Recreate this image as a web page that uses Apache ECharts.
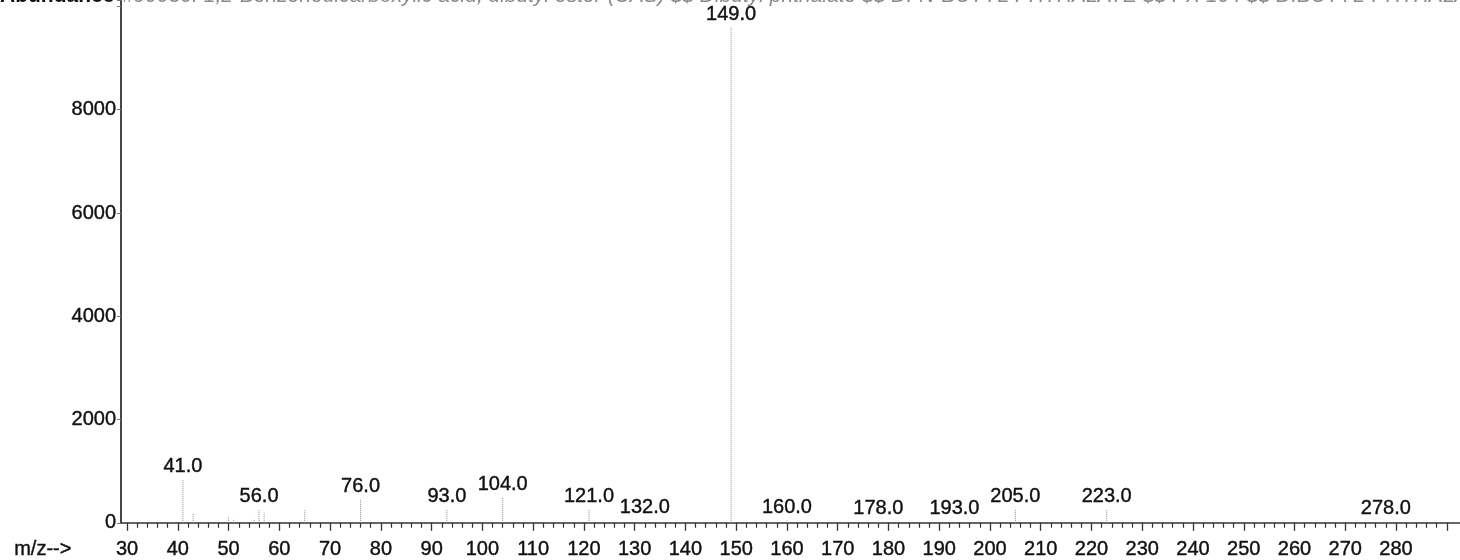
<!DOCTYPE html>
<html>
<head>
<meta charset="utf-8">
<script src="https://cdn.jsdelivr.net/npm/echarts@6/dist/echarts.min.js"></script>
<style>
  html, body { margin: 0; padding: 0; background: #fff; }
  #chart { width: 1460px; height: 560px; }
</style>
</head>
<body>
<div id="chart"></div>
<script>
// Library spectrum of dibutyl phthalate: m/z and abundance of each line
const mzValues  = [41, 43, 50, 51, 55, 56, 57, 65, 76, 93, 104, 121, 132, 149, 160, 178, 193, 205, 223, 278];
const abundance = [830, 180, 120, 60, 80, 250, 200, 250, 445, 255, 490, 255, 40, 9590, 50, 20, 20, 255, 255, 30];

// Lines that carry an m/z label
const labeledMz = [41, 56, 76, 93, 104, 121, 132, 149, 160, 178, 193, 205, 223, 278];

// Axis ticks
const xMajorTicks = [30, 40, 50, 60, 70, 80, 90, 100, 110, 120, 130, 140, 150, 160, 170, 180, 190, 200, 210, 220, 230, 240, 250, 260, 270, 280, 290];
const xTickLabels = [30, 40, 50, 60, 70, 80, 90, 100, 110, 120, 130, 140, 150, 160, 170, 180, 190, 200, 210, 220, 230, 240, 250, 260, 270, 280];
const yTickLabels = [0, 2000, 4000, 6000, 8000];

const headerTitle = 'Abundance';
const headerText = '#90030: 1,2-Benzenedicarboxylic acid, dibutyl ester (CAS) $$ Dibutyl phthalate $$ DI-N-BUTYL PHTHALATE $$ PX 104 $$ DIBUTYL-PHTHALATE';

const xMinorTicks = [];
for (let v = 30; v <= 290; v += 2) {
  if (v % 10 !== 0) xMinorTicks.push(v);
}

const FONT = '"Liberation Sans", Arial, sans-serif';
const TEXT_INK = '#111';
const chart = echarts.init(document.getElementById('chart'), null, { renderer: 'canvas' });

const axisColor = '#333';

// Shared look of the axis numbers (slightly heavier strokes)
const labelInk = {
  color: TEXT_INK,
  fontSize: 20,
  fontFamily: FONT,
  textBorderColor: TEXT_INK,
  textBorderWidth: 0.4
};

chart.setOption({
  animation: false,
  backgroundColor: '#ffffff',
  grid: { left: 121, right: 0, top: 0, bottom: 37 },
  xAxis: [
    {
      type: 'value',
      min: 28.8,
      max: 292.6,
      position: 'bottom',
      axisLine: { show: true, lineStyle: { color: axisColor, width: 1.6 } },
      axisTick: { show: true, customValues: xMajorTicks, length: 8, lineStyle: { color: axisColor, width: 1.3 } },
      axisLabel: Object.assign({ customValues: xTickLabels, margin: 17 }, labelInk),
      splitLine: { show: false }
    },
    {
      type: 'value',
      min: 28.8,
      max: 292.6,
      position: 'bottom',
      axisLine: { show: false },
      axisTick: { show: true, customValues: xMinorTicks, length: 5, lineStyle: { color: axisColor, width: 1.2 } },
      axisLabel: { show: false },
      splitLine: { show: false }
    }
  ],
  yAxis: {
    type: 'value',
    min: 0,
    max: 10125,
    interval: 2000,
    axisLine: { show: true, lineStyle: { color: axisColor, width: 1.8 } },
    axisTick: { show: true, length: 4, lineStyle: { color: '#777' } },
    axisLabel: Object.assign({
      margin: 5,
      formatter: v => (yTickLabels.indexOf(v) >= 0 ? String(v) : '')
    }, labelInk),
    splitLine: { show: false }
  },
  series: [{
    type: 'custom',
    xAxisIndex: 0,
    yAxisIndex: 0,
    clip: false,
    data: mzValues.map((m, i) => [m, abundance[i]]),
    encode: { x: 0, y: 1 },
    renderItem: function (params, api) {
      const mz = api.value(0);
      const ab = api.value(1);
      const base = api.coord([mz, 0]);
      const top = api.coord([mz, ab]);
      const children = [{
        type: 'line',
        shape: { x1: base[0], y1: base[1], x2: top[0], y2: top[1] },
        style: { stroke: '#8c8c8c', lineWidth: 1, lineDash: [1, 1] }
      }];
      if (labeledMz.indexOf(mz) >= 0) {
        children.push({
          type: 'text',
          x: top[0],
          y: top[1] - 3,
          style: {
            text: mz.toFixed(1),
            align: 'center',
            verticalAlign: 'bottom',
            fill: TEXT_INK,
            stroke: TEXT_INK,
            lineWidth: 0.4,
            font: '20px ' + FONT
          }
        });
      }
      return { type: 'group', children: children };
    }
  }],
  graphic: [
    {
      type: 'text',
      left: 0,
      top: -14,
      style: { text: headerTitle, font: 'bold 21px ' + FONT, fill: TEXT_INK }
    },
    {
      type: 'text',
      left: 122,
      top: -14,
      style: { text: headerText, font: 'italic 21px ' + FONT, fill: '#8a8a8a' }
    },
    {
      type: 'text',
      left: 14,
      top: 539,
      style: { text: 'm/z-->', font: '20px ' + FONT, fill: TEXT_INK, stroke: TEXT_INK, lineWidth: 0.4 }
    }
  ]
});
</script>
</body>
</html>
